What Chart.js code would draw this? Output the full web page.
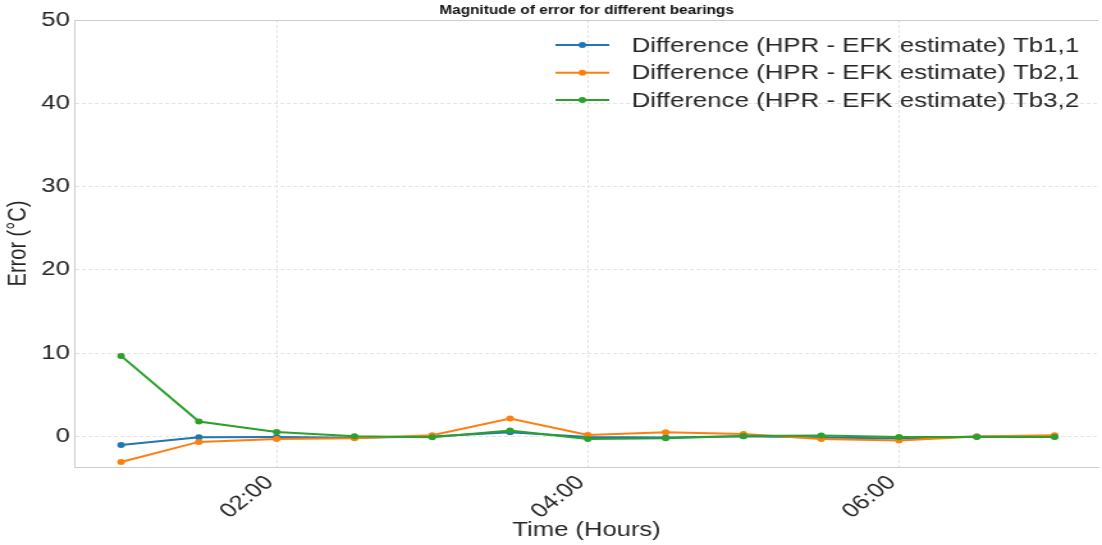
<!DOCTYPE html>
<html>
<head>
<meta charset="utf-8">
<script src="https://cdn.jsdelivr.net/npm/chart.js@4"></script>
<style>
  html, body { margin: 0; padding: 0; background: #fff; overflow: hidden; }
  #wrap { position: absolute; left: 0; top: 0; width: 861px; height: 545px;
          transform: scaleX(1.2799); transform-origin: 0 0; }
</style>
</head>
<body>
<div id="wrap"><canvas id="c"></canvas></div>
<script>
// ---- data ----
const times = ['01:00','01:30','02:00','02:30','03:00','03:30','04:00','04:30','05:00','05:30','06:00','06:30','07:00'];
const tb11 = [-1.0, -0.08, -0.05, -0.15, 0.0, 0.52, -0.05, -0.1, 0.05, -0.1, -0.22, 0.0, 0.0];
const tb21 = [-3.05, -0.64, -0.28, -0.2, 0.16, 2.17, 0.2, 0.52, 0.3, -0.28, -0.48, 0.0, 0.16];
const tb32 = [9.68, 1.81, 0.56, 0.05, -0.07, 0.72, -0.28, -0.2, 0.08, 0.12, -0.04, -0.04, -0.04];
const seriesLabels = [
  'Difference (HPR - EFK estimate) Tb1,1',
  'Difference (HPR - EFK estimate) Tb2,1',
  'Difference (HPR - EFK estimate) Tb3,2'
];
const xTickValues = [2, 4, 6];
const xTickLabels = ['02:00', '04:00', '06:00'];
const yTickValues = [0, 10, 20, 30, 40, 50];

const colors = ['#1f77b4', '#ff7f0e', '#2ca02c'];
const FONT = '"Liberation Sans", Arial, Helvetica, sans-serif';
const TEXT = '#262626';

function toHours(t) { const [h, m] = t.split(':').map(Number); return h + m / 60; }
function pts(vals) { return vals.map((v, i) => ({ x: toHours(times[i]), y: v })); }

const frame = {
  id: 'frame',
  beforeDatasetsDraw(chart) {
    const { ctx, chartArea: a } = chart;
    ctx.save();
    ctx.strokeStyle = '#cccccc';
    ctx.lineWidth = 1;
    ctx.beginPath();
    ctx.moveTo(a.left, a.top + 0.5);
    ctx.lineTo(a.right, a.top + 0.5);
    ctx.stroke();
    ctx.restore();
  }
};

const legendInside = {
  id: 'legendInside',
  afterDatasetsDraw(chart) {
    const { ctx, chartArea: a } = chart;
    const rows = [25, 52.7, 80];
    ctx.save();
    chart.data.datasets.forEach((ds, i) => {
      const y = a.top + rows[i];
      ctx.strokeStyle = ds.borderColor;
      ctx.lineWidth = 2;
      ctx.beginPath();
      ctx.moveTo(a.right - 424, y);
      ctx.lineTo(a.right - 382, y);
      ctx.stroke();
      ctx.fillStyle = ds.borderColor;
      ctx.beginPath();
      ctx.arc(a.right - 403, y, 3, 0, Math.PI * 2);
      ctx.fill();
      ctx.fillStyle = TEXT;
      ctx.font = '20.2px ' + FONT;
      ctx.textBaseline = 'middle';
      ctx.textAlign = 'left';
      ctx.fillText(ds.label, a.right - 364.5, y + 1);
    });
    ctx.restore();
  }
};

const datasetsSrc = [tb11, tb21, tb32];

new Chart(document.getElementById('c'), {
  type: 'line',
  data: {
    datasets: datasetsSrc.map((vals, i) => ({
      label: seriesLabels[i],
      data: pts(vals),
      borderColor: colors[i],
      backgroundColor: colors[i],
      borderWidth: 2,
      pointRadius: 3,
      pointHoverRadius: 3,
      pointBorderWidth: 0,
      tension: 0,
      order: 3 - i
    }))
  },
  options: {
    responsive: true,
    maintainAspectRatio: false,
    animation: false,
    layout: { padding: { left: 0, right: 0, top: 0, bottom: 0 } },
    plugins: {
      legend: { display: false },
      tooltip: { enabled: false },
      title: {
        display: true,
        text: 'Magnitude of error for different bearings',
        fullSize: false,
        color: '#111',
        font: { family: FONT, size: 12, weight: 'bold', lineHeight: 1.2 },
        padding: { top: 3, bottom: 2.6 }
      }
    },
    scales: {
      x: {
        type: 'linear',
        min: 0.704,
        max: 7.28,
        afterFit(s) { s.height = 78; },
        afterBuildTicks(s) { s.ticks = xTickValues.map(v => ({ value: v })); },
        ticks: {
          minRotation: 45,
          maxRotation: 45,
          autoSkip: false,
          padding: 4,
          labelOffset: -5.5,
          color: TEXT,
          font: { family: FONT, size: 20 },
          callback(v) { const k = xTickValues.indexOf(v); return k >= 0 ? xTickLabels[k] : ''; }
        },
        grid: { color: '#e3e3e3', lineWidth: 1, drawTicks: false, tickLength: 0 },
        border: { display: true, color: '#cccccc', width: 1, dash: [3, 2] },
        title: {
          display: true,
          text: 'Time (Hours)',
          color: TEXT,
          font: { family: FONT, size: 20, lineHeight: 1.2 },
          padding: { top: 0, bottom: 3 }
        }
      },
      y: {
        type: 'linear',
        min: -3.65,
        max: 50,
        afterFit(s) { s.width = 58.6; },
        afterBuildTicks(s) { s.ticks = yTickValues.map(v => ({ value: v })); },
        ticks: {
          padding: 4,
          color: TEXT,
          font: { family: FONT, size: 20 },
          callback(v) { return String(v); }
        },
        grid: { color: '#e3e3e3', lineWidth: 1, drawTicks: false, tickLength: 0 },
        border: { display: true, color: '#cccccc', width: 1, dash: [3, 2] },
        title: {
          display: true,
          text: 'Error (°C)',
          color: TEXT,
          font: { family: FONT, size: 20, lineHeight: 1.2 },
          padding: { top: 2, bottom: 0 }
        }
      }
    }
  },
  plugins: [frame, legendInside]
});
</script>
</body>
</html>
